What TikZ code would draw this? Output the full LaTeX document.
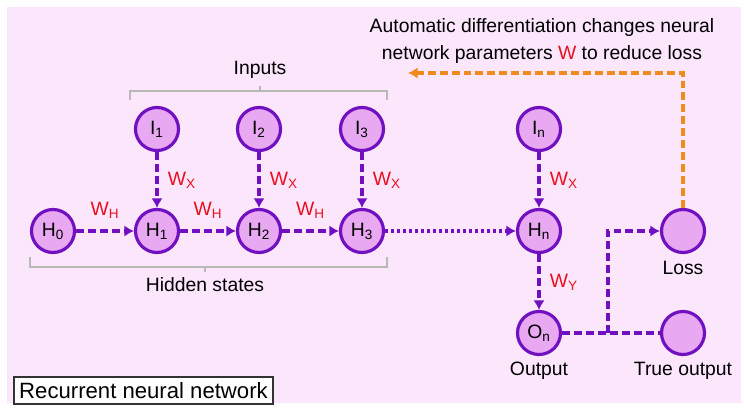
\documentclass[tikz,border=0pt]{standalone}
\usepackage{fontspec}
\setmainfont{Liberation Sans}
\usetikzlibrary{arrows.meta,positioning}
\definecolor{rnnbg}{HTML}{FCE6FC}
\definecolor{rnnpurple}{HTML}{7010C0}
\definecolor{rnnfill}{HTML}{E8A8F2}
\definecolor{rnnred}{HTML}{E8101C}
\definecolor{rnnorange}{HTML}{F08A1C}
\definecolor{rnngray}{HTML}{B8B8B8}
\tikzset{
  rnn-cell/.style={circle, draw=rnnpurple, fill=rnnfill, line width=1.8pt, minimum size=0.86cm,
    inner sep=0pt, font=\fontsize{11}{13}\selectfont},
  rnn-link/.style={draw=rnnpurple, line width=2.3pt, dash pattern=on 4.5pt off 2.3pt,
    -{Latex[length=5.5pt,width=6.5pt]}},
  rnn-dots/.style={draw=rnnpurple, line width=2.3pt, dash pattern=on 1.8pt off 1.6pt,
    -{Latex[length=5.5pt,width=6.5pt]}},
  rnn-weight/.style={text=rnnred, font=\fontsize{11}{13}\selectfont, inner sep=0pt},
  rnn-brace/.style={draw=rnngray, line width=1.3pt},
  rnn-label/.style={font=\fontsize{11}{13}\selectfont, inner sep=0pt}
}

\begin{document}
\begin{tikzpicture}[x=0.02cm, y=-0.02cm]
  \useasboundingbox (0,0) rectangle (744,409);
  \fill[rnnbg] (7,7) rectangle (741,403);
  % hidden states and inputs
  \node[rnn-cell] (h0) at (53,231) {H\textsubscript{0}};
  \node[rnn-cell] (h1) at (157,231) {H\textsubscript{1}};
  \node[rnn-cell] (h2) at (259,231) {H\textsubscript{2}};
  \node[rnn-cell] (h3) at (362,231) {H\textsubscript{3}};
  \node[rnn-cell] (hn) at (539,231) {H\textsubscript{n}};
  \node[rnn-cell] (i1) at (157,129) {I\textsubscript{1}};
  \node[rnn-cell] (i2) at (259,129) {I\textsubscript{2}};
  \node[rnn-cell] (i3) at (362,129) {I\textsubscript{3}};
  \node[rnn-cell] (in) at (539,129) {I\textsubscript{n}};
  \node[rnn-cell] (on) at (539,333) {O\textsubscript{n}};
  \node[rnn-cell] (loss) at (683,231) {};
  \node[rnn-cell] (truth) at (683,333) {};
  \node[rnn-label] at (683,268) {Loss};
  \node[rnn-label] at (539,371) {Output};
  \node[rnn-label] at (683,371) {True output};
  % connectors
  \draw[rnn-link] (h0) -- (h1) node[rnn-weight, midway, above=6pt] {W\textsubscript{H}};
  \draw[rnn-link] (h1) -- (h2) node[rnn-weight, midway, above=6pt] {W\textsubscript{H}};
  \draw[rnn-link] (h2) -- (h3) node[rnn-weight, midway, above=6pt] {W\textsubscript{H}};
  \draw[rnn-dots] (h3) -- (hn);
  \foreach \a/\b in {i1/h1, i2/h2, i3/h3, in/hn} {
    \draw[rnn-link] (\a) -- (\b) node[rnn-weight, midway, right=5pt] {W\textsubscript{X}};
  }
  \draw[rnn-link] (hn) -- (on) node[rnn-weight, midway, right=5pt] {W\textsubscript{Y}};
  \coordinate (split) at (608,333);
  \draw[rnn-link, -] (on) -- (split) -- (truth);
  \draw[rnn-link] (split) -- (608,231) -- (loss);
  % feedback
  \coordinate (back) at (408,73);
  \draw[draw=rnnorange, line width=2.3pt, dash pattern=on 4.5pt off 2.3pt, -{Latex[length=5.5pt,width=6.5pt]}]
    (loss) -- (683,73) -- (back);
  \node[font=\fontsize{11}{15.3}\selectfont, align=center] (note) at (542,41)
    {Automatic differentiation changes neural\\network parameters \textcolor{rnnred}{W} to reduce loss};
  % brackets
  \draw[rnn-brace] (130,100) -- (130,91) -- (387,91) -- (387,100) (260,91) -- (260,86);
  \node[rnn-label] (inputs) at (260,70) {Inputs};
  \draw[rnn-brace] (30,257) -- (30,267) -- (387,267) -- (387,257) (205,267) -- (205,272);
  \node[rnn-label] (hidden) at (205,285) {Hidden states};
  \node[draw=black!80, fill=white, line width=0.6pt, font=\fontsize{12.6}{14}\selectfont,
    minimum width=259*0.02cm, minimum height=27*0.02cm, inner sep=0pt] (title) at (143.5,390.5) {Recurrent neural network};
\end{tikzpicture}
\end{document}
